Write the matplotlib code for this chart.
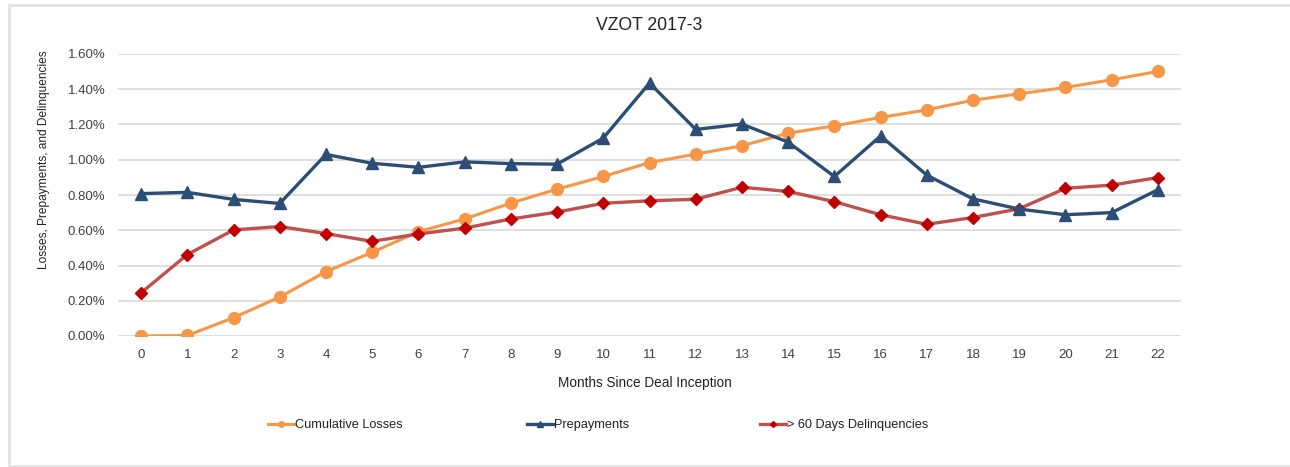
import matplotlib
matplotlib.use("Agg")
import matplotlib.pyplot as plt
from matplotlib.patches import Rectangle
from matplotlib.ticker import FuncFormatter, MultipleLocator
from matplotlib.lines import Line2D

months = list(range(23))
cumulative_losses = [0.000, 0.003, 0.104, 0.221, 0.365, 0.475, 0.592, 0.664, 0.754, 0.833,
                     0.905, 0.984, 1.032, 1.079, 1.151, 1.192, 1.240, 1.283, 1.338, 1.374,
                     1.410, 1.454, 1.501]
prepayments = [0.808, 0.815, 0.775, 0.752, 1.030, 0.980, 0.957, 0.988, 0.978, 0.975,
               1.123, 1.435, 1.172, 1.202, 1.100, 0.905, 1.135, 0.913, 0.778, 0.720,
               0.688, 0.700, 0.830]
delinquencies = [0.245, 0.462, 0.602, 0.621, 0.581, 0.537, 0.579, 0.612, 0.664, 0.703,
                 0.753, 0.767, 0.776, 0.844, 0.820, 0.762, 0.688, 0.634, 0.672, 0.722,
                 0.838, 0.856, 0.899]
series_names = ["Cumulative Losses", "Prepayments", "> 60 Days Delinquencies"]
title = "VZOT 2017-3"
xlabel = "Months Since Deal Inception"
ylabel = "Losses, Prepayments, and Delinquencies"

plt.rcParams['font.family'] = ['Liberation Sans', 'DejaVu Sans']

W, H = 1290, 467
fig = plt.figure(figsize=(W / 100, H / 100), dpi=100)
fig.patch.set_facecolor('white')

# outer light frame
fig.patches.append(Rectangle((9 / W, 1 / H), 1.2, (466 - 5) / H, transform=fig.transFigure,
                             fill=False, edgecolor='#e3e3e3', linewidth=2, zorder=0))

ax = fig.add_axes([118 / W, 1 - 336 / H, (1181 - 118) / W, (336 - 54) / H])
ax.set_xlim(-0.5, 22.5)
ax.set_ylim(0, 1.6)
ax.yaxis.set_major_locator(MultipleLocator(0.2))
ax.yaxis.set_major_formatter(FuncFormatter(lambda v, p: f"{v:.2f}%"))
ax.set_xticks(months)
ax.set_xticklabels([str(m) for m in months])
ax.grid(axis='y', color='#d9d9d9', linewidth=1.2)
ax.set_axisbelow(True)
for s in ax.spines.values():
    s.set_visible(False)
ax.tick_params(axis='both', length=0, labelsize=9.5, colors='#404040')
ax.tick_params(axis='x', pad=9)
ax.tick_params(axis='y', pad=9)

c_orange = '#F79646'
c_blue = '#2C4D75'
c_red_line = '#C0504D'
c_red_mk = '#C00000'

ax.plot(months, cumulative_losses, color=c_orange, lw=2.2, marker='o', markersize=8.5,
        markerfacecolor=c_orange, markeredgecolor=c_orange, zorder=3)
ax.plot(months, prepayments, color=c_blue, lw=2.4, marker='^', markersize=8.5,
        markerfacecolor=c_blue, markeredgecolor=c_blue, zorder=4)
ax.plot(months, delinquencies, color=c_red_line, lw=2.4, marker='D', markersize=6,
        markerfacecolor=c_red_mk, markeredgecolor=c_red_mk, zorder=3)

fig.text(649 / W, 1 - 25 / H, title, ha='center', va='center', fontsize=12.7, color='#222222')
fig.text(645 / W, 1 - 383 / H, xlabel, ha='center', va='center', fontsize=9.8, color='#222222')
fig.text(44 / W, 1 - 160 / H, ylabel, ha='center', va='center', rotation=90, fontsize=8.6,
         color='#222222')

handles = [
    Line2D([], [], color=c_orange, lw=2.2, marker='o', markersize=4, markerfacecolor=c_orange),
    Line2D([], [], color=c_blue, lw=2.4, marker='^', markersize=4, markerfacecolor=c_blue),
    Line2D([], [], color=c_red_line, lw=2.4, marker='D', markersize=3,
           markerfacecolor=c_red_mk, markeredgecolor=c_red_mk),
]
lefts = [268, 527, 760]
for h, name, lx in zip(handles, series_names, lefts):
    fig.legend([h], [name], loc='center left', bbox_to_anchor=(lx / W, 1 - 425 / H),
               frameon=False, fontsize=9.2, handlelength=2.0, handletextpad=0.1,
               borderpad=0, borderaxespad=0, labelcolor='#222222')

fig.savefig('out.png', dpi=100, facecolor='white')
